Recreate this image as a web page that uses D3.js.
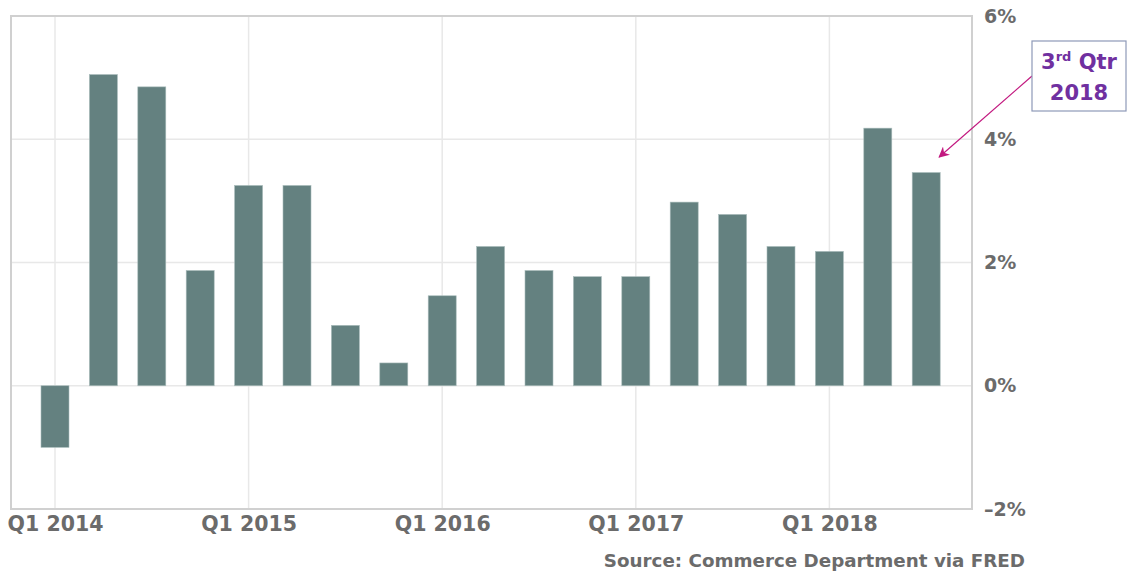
<!DOCTYPE html>
<html>
<head>
<meta charset="utf-8">
<script src="https://cdn.jsdelivr.net/npm/d3@7"></script>
<style>
  body { margin: 0; background: #fff; }
  svg { display: block; font-family: "DejaVu Sans", sans-serif; }
</style>
</head>
<body>
<svg width="1131" height="571"></svg>
<script>
var quarters = ['Q1 2014', 'Q2 2014', 'Q3 2014', 'Q4 2014',
                'Q1 2015', 'Q2 2015', 'Q3 2015', 'Q4 2015',
                'Q1 2016', 'Q2 2016', 'Q3 2016', 'Q4 2016',
                'Q1 2017', 'Q2 2017', 'Q3 2017', 'Q4 2017',
                'Q1 2018', 'Q2 2018', 'Q3 2018'];
var growth = [-1.0, 5.05, 4.85, 1.87,
              3.25, 3.25, 0.98, 0.37,
              1.46, 2.26, 1.87, 1.77,
              1.77, 2.98, 2.78, 2.26,
              2.18, 4.18, 3.46];
var xTickLabels = ['Q1 2014', 'Q1 2015', 'Q1 2016', 'Q1 2017', 'Q1 2018'];
var yTicks = [-2, 0, 2, 4, 6];

(function () {
    'use strict';

    var svg = d3.select('svg');
    var plotL = 11, plotR = 972, plotT = 16, plotB = 509;

    // quarters sit on a point scale, Q1 2014 at x=55, 48.4px apart
    var x = d3.scalePoint()
        .domain(quarters)
        .range([55, 55 + 48.4 * (quarters.length - 1)]);
    var y = d3.scaleLinear().domain([-2, 6]).range([plotB, plotT]);
    var barW = 28;

    // gridlines
    svg.append('g')
        .selectAll('line')
        .data(yTicks)
        .enter().append('line')
        .attr('x1', plotL).attr('x2', plotR)
        .attr('y1', function (d) { return y(d); })
        .attr('y2', function (d) { return y(d); })
        .attr('stroke', '#e8e8e8').attr('stroke-width', 1.5);

    svg.append('g')
        .selectAll('line')
        .data(xTickLabels)
        .enter().append('line')
        .attr('x1', function (d) { return x(d); })
        .attr('x2', function (d) { return x(d); })
        .attr('y1', plotT).attr('y2', plotB)
        .attr('stroke', '#e8e8e8').attr('stroke-width', 1.5);

    // frame
    svg.append('rect')
        .attr('x', plotL).attr('y', plotT)
        .attr('width', plotR - plotL).attr('height', plotB - plotT)
        .attr('fill', 'none')
        .attr('stroke', '#d0d0d0').attr('stroke-width', 2);

    // bars
    svg.append('g')
        .selectAll('rect')
        .data(growth)
        .enter().append('rect')
        .attr('x', function (d, i) { return x(quarters[i]) - barW / 2; })
        .attr('width', barW)
        .attr('y', function (d) { return y(Math.max(0, d)); })
        .attr('height', function (d) { return Math.abs(y(d) - y(0)); })
        .attr('fill', '#648180')
        .attr('stroke', '#a9bcbb').attr('stroke-width', 0.6);

    // y axis labels on the right
    var yAxis = d3.axisRight(y)
        .tickValues(yTicks)
        .tickSize(0)
        .tickPadding(0)
        .tickFormat(function (d) { return (d < 0 ? '\u20132' : d) + '%'; });
    var gy = svg.append('g')
        .attr('transform', 'translate(984,0)')
        .call(yAxis);
    gy.select('.domain').remove();
    gy.selectAll('text')
        .attr('fill', '#6b6b6b')
        .attr('font-size', 19)
        .attr('font-weight', 'bold')
        .attr('font-family', '"DejaVu Sans", sans-serif');

    // x axis labels
    var xAxis = d3.axisBottom(x)
        .tickValues(xTickLabels)
        .tickSize(0)
        .tickPadding(0);
    var gx = svg.append('g')
        .attr('transform', 'translate(0,516)')
        .call(xAxis);
    gx.select('.domain').remove();
    gx.selectAll('text')
        .attr('fill', '#6b6b6b')
        .attr('font-size', 20.5)
        .attr('font-weight', 'bold')
        .attr('font-family', '"DejaVu Sans", sans-serif');

    // source
    svg.append('text')
        .attr('x', 1025).attr('y', 567)
        .attr('text-anchor', 'end')
        .attr('fill', '#6b6b6b')
        .attr('font-size', 18.3)
        .attr('font-weight', 'bold')
        .text('Source: Commerce Department via FRED');

    // annotation
    svg.append('defs').append('marker')
        .attr('id', 'arrow')
        .attr('viewBox', '0 0 10 10')
        .attr('refX', 9).attr('refY', 5)
        .attr('markerWidth', 9).attr('markerHeight', 9)
        .attr('orient', 'auto')
        .append('path')
        .attr('d', 'M0,0 L10,5 L0,10 L3,5 Z')
        .attr('fill', '#c2187f');

    svg.append('line')
        .attr('x1', 1032).attr('y1', 76)
        .attr('x2', x('Q3 2018') + 13).attr('y2', 157)
        .attr('stroke', '#c2187f').attr('stroke-width', 1.2)
        .attr('marker-end', 'url(#arrow)');

    svg.append('rect')
        .attr('x', 1032).attr('y', 41)
        .attr('width', 94).attr('height', 70)
        .attr('fill', '#fff')
        .attr('stroke', '#8e99b8').attr('stroke-width', 1.2);

    var note = svg.append('text')
        .attr('x', 1079).attr('y', 69)
        .attr('text-anchor', 'middle')
        .attr('fill', '#7030a0')
        .attr('font-size', 21)
        .attr('font-weight', 'bold');
    note.append('tspan').text('3');
    note.append('tspan').attr('font-size', 13).attr('dy', -8).text('rd');
    note.append('tspan').attr('dy', 8).text(' Qtr');
    svg.append('text')
        .attr('x', 1079).attr('y', 100)
        .attr('text-anchor', 'middle')
        .attr('fill', '#7030a0')
        .attr('font-size', 21)
        .attr('font-weight', 'bold')
        .text('2018');
}());
</script>
</body>
</html>
